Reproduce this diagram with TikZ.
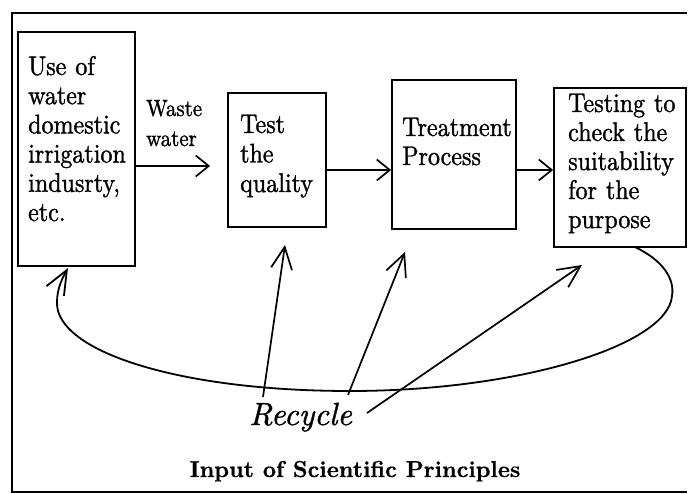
\documentclass[tikz,border=0pt]{standalone}
\usepackage{fontspec}
\setmainfont{lmroman10}[Extension=.otf, UprightFont=*-regular, BoldFont=*-bold, ItalicFont=*-italic, BoldItalicFont=*-bolditalic]
\newfontfamily\regfont{lmroman10-regular.otf}[FakeBold=1.2, FakeStretch=0.89]
\newfontfamily\itfont{lmroman10-italic.otf}[FakeBold=1.2]
\newfontfamily\bffont{lmroman10-bold.otf}[FakeBold=0.6]
\usetikzlibrary{arrows.meta}
\begin{document}
\begin{tikzpicture}[x=1pt,y=-1pt,
  box/.style={draw, line width=1.8pt, inner sep=0pt},
  boxtext/.style={anchor=base west, inner sep=0pt, align=left, font={\regfont\fontsize{27}{29.2}\selectfont}},
  harrow/.style={line width=1.7pt, -{Straight Barb[length=13pt,width=21pt]}},
  darrow/.style={line width=1.7pt, -{Straight Barb[length=22pt,width=21pt]}},
  looparrow/.style={line width=1.8pt, -{Straight Barb[length=24pt,width=20pt]}}
]
\fill[white] (0,0) rectangle (688,494);
\useasboundingbox (0,0) rectangle (688,494);
% outer frame
\draw[line width=2pt] (687,13) -- (12,13) -- (12,492) -- (687,492);
% boxes
\node[box, minimum width=117pt, minimum height=234pt] (b1) at (76.5,149) {};
\node[box, minimum width=98pt, minimum height=134pt] (b2) at (277,160) {};
\node[box, minimum width=124pt, minimum height=149pt] (b3) at (454,154.5) {};
\node[box, minimum width=132pt, minimum height=159pt] (b4) at (620,167.5) {};
% texts
\node[boxtext, text width=112pt] (t1) at (28,75) {Use of\\water\\domestic\\irrigation\\indusrty,\\etc.};
\node[boxtext, text width=85pt, font={\regfont\fontsize{27}{29.5}\selectfont}] (t2) at (240,133) {Test\\the\\quality};
\node[boxtext, text width=120pt, font={\regfont\fontsize{27}{29}\selectfont}] (t3) at (402,136) {Treatment\\Process};
\node[boxtext, text width=116pt, font={\regfont\fontsize{27}{29}\selectfont}] (t4) at (568,112) {Testing to\\check the\\suitability\\for the\\purpose};
\node[boxtext, text width=70pt, font={\regfont\fontsize{23.5}{30}\selectfont}] (ww) at (146,116) {Waste\\water};
\node[anchor=base west, inner sep=0pt, font={\itfont\fontsize{32}{38}\selectfont}] (rec) at (249,425) {Recycle};
\node[anchor=base, inner sep=0pt, font={\bffont\fontsize{23}{28}\selectfont}] (inp) at (355,477) {Input of Scientific Principles};
% flow arrows
\coordinate (aw) at (0,166);
\coordinate (ay) at (0,170);
\draw[harrow, shorten >=17pt] (b1.east |- aw) -- (b2.west |- aw);
\draw[harrow] (b2.east |- ay) -- (b3.west |- ay);
\draw[harrow] (b3.east |- ay) -- (b4.west |- ay);
% recycle arrows
\coordinate (r1s) at (263,397); \coordinate (r1e) at (285,245);
\coordinate (r2s) at (348,395); \coordinate (r2e) at (405,252);
\coordinate (r3s) at (367,413); \coordinate (r3e) at (582,265);
\draw[darrow] (r1s) -- (r1e);
\draw[darrow] (r2s) -- (r2e);
\draw[darrow] (r3s) -- (r3e);
% loop
\coordinate (ls) at (635,247);
\coordinate (le) at (68,268);
\draw[looparrow] (ls) .. controls (662,260) and (675,278) .. (672,296)
  .. controls (668,345) and (520,391) .. (350,391)
  .. controls (175,391) and (55,350) .. (57,302)
  .. controls (57,288) and (63,277) .. (le);
\end{tikzpicture}
\end{document}
